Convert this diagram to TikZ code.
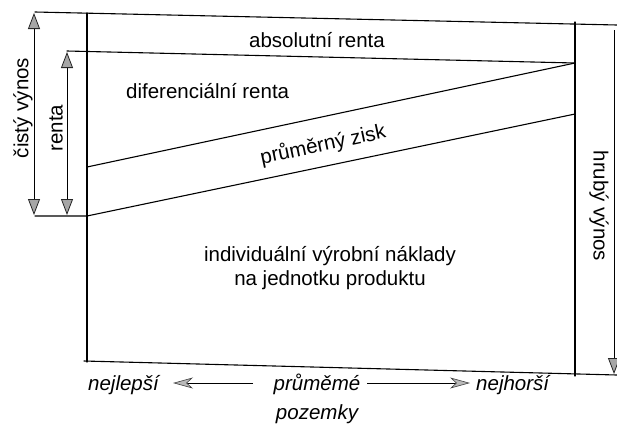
\documentclass[tikz,border=0pt]{standalone}
\usepackage{fontspec}
\setmainfont{Liberation Sans}
\usetikzlibrary{arrows.meta}
\begin{document}
\begin{tikzpicture}[x=1pt,y=-1pt,
  frame/.style={line width=1.1pt, line cap=round},
  thinline/.style={line width=0.6pt},
  dimarrow/.style={thinline,
    {Triangle[length=16pt,width=12pt,fill=gray!70,color=black!85,line width=0.8pt]}-{Triangle[length=16pt,width=12pt,fill=gray!70,color=black!85,line width=0.8pt]}},
  dimend/.style={thinline,
    -{Triangle[length=16pt,width=12pt,fill=gray!70,color=black!85,line width=0.8pt]}},
  dirarrow/.style={thinline,
    -{Stealth[length=20pt,width=11pt,inset=6pt,fill=gray!55,color=gray!50!black,line width=0.6pt]}},
  lbl/.style={font=\fontsize{20.5}{24}\selectfont, inner sep=0pt},
  ilbl/.style={font=\fontsize{20.5}{24}\selectfont\itshape, inner sep=0pt}
]
\useasboundingbox (0,0) rectangle (617,432);

% coordinates
\coordinate (tl) at (35,12);
\coordinate (tr) at (617,25);
\coordinate (lt) at (87,13);
\coordinate (lb) at (87,362);
\coordinate (rt) at (575,22);
\coordinate (rb) at (575,376);
\coordinate (bl) at (84,361);
\coordinate (br) at (617,375);
\coordinate (r2l) at (67,51);
\coordinate (r2r) at (575,63);
\coordinate (r3l) at (87,167);
\coordinate (r4x) at (35,216);
\coordinate (r4l) at (87,216);
\coordinate (r4r) at (575,114);

% frame
\draw[frame] (tl) -- (tr);
\draw[frame] (lt) -- (lb);
\draw[frame] (rt) -- (rb);
\draw[frame] (bl) -- (br);
\draw[frame] (r2l) -- (r2r);
\draw[frame] (r3l) -- (r2r);
\draw[frame] (r4x) -- (r4l) -- (r4r);

% dimension arrows
\coordinate (c1) at (34,13);
\coordinate (c2) at (34,215);
\coordinate (rn1) at (67,52);
\coordinate (rn2) at (67,215);
\coordinate (h1) at (614,30);
\coordinate (h2) at (614,374);
\draw[dimarrow] (c1) -- (c2);
\draw[dimarrow] (rn1) -- (rn2);
\draw[dimend] (h1) -- (h2);

% labels inside
\node[lbl, anchor=base] (abs) at (317,47) {absolutní renta};
\node[lbl, anchor=base west] (dif) at (126,98) {diferenciální renta};
\node[lbl, rotate=12] (zisk) at (323,145) {průměrný zisk};
\node[lbl, anchor=base] (ind1) at (330,261) {individuální výrobní náklady};
\node[lbl, anchor=base] (ind2) at (330,285) {na jednotku produktu};

\node[lbl, rotate=90] (cist) at (23,108) {čistý výnos};
\node[lbl, rotate=90] (rent) at (56,128) {renta};
\node[lbl, rotate=-90] (hrub) at (599,206) {hrubý výnos};

% bottom
\node[ilbl, anchor=base west] (best) at (88,390) {nejlepší};
\node[ilbl, anchor=base] (avg) at (317,390) {průměmé};
\node[ilbl, anchor=base] (poz) at (317,419) {pozemky};
\node[ilbl, anchor=base west] (worst) at (476,390) {nejhorší};
\coordinate (la1) at (253,383);
\coordinate (la2) at (173,383);
\coordinate (ra1) at (367,383);
\coordinate (ra2) at (470,383);
\draw[dirarrow] (la1) -- (la2);
\draw[dirarrow] (ra1) -- (ra2);
\end{tikzpicture}
\end{document}
